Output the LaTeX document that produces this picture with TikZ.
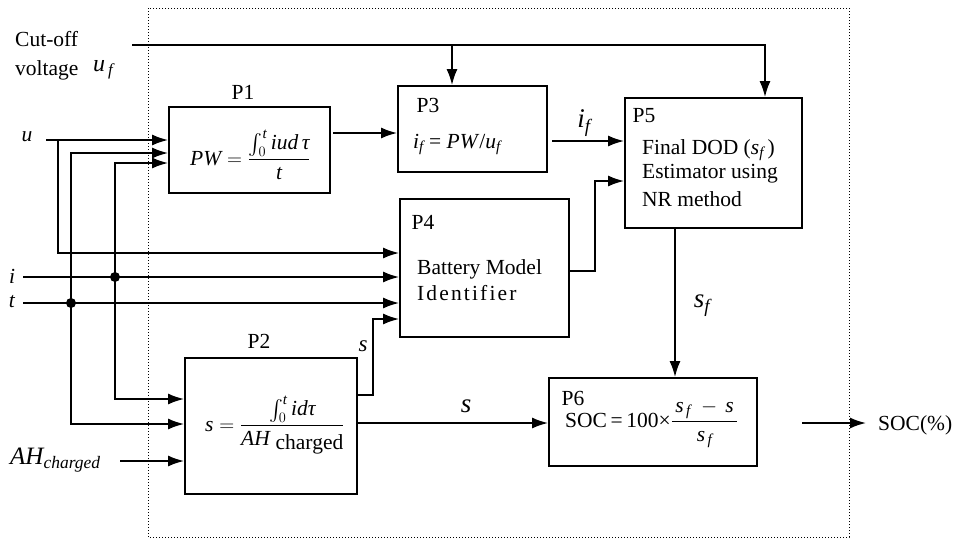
\documentclass[tikz,border=0pt]{standalone}
\usepackage{amsmath}
\usepackage{fontspec}
\setmainfont{Liberation Serif}
\usetikzlibrary{arrows.meta}
\newcommand\vv[1]{\textit{#1}}
\begin{document}
\begin{tikzpicture}[x=1pt,y=-1pt, font=\fontsize{21.5}{24}\selectfont,
  box/.style={draw, line width=1.8pt, inner sep=0pt},
  wire/.style={line width=1.8pt},
  arr/.style={wire, -{Latex[length=16pt,width=11pt]}},
  dblarr/.style={wire, {Latex[length=16pt,width=11pt]}-{Latex[length=16pt,width=11pt]}},
  lbl/.style={inner sep=0pt},
  big/.style={font=\fontsize{27}{30}\selectfont}]
\useasboundingbox (0,0) rectangle (954,539);
\draw[line width=1pt, dotted] (148,8) rectangle (849,537);

% boxes
\node[box, minimum width=161pt, minimum height=86pt] (P1) at (249.5,150) {};
\node[box, minimum width=149pt, minimum height=86pt] (P3) at (472.5,129) {};
\node[box, minimum width=177pt, minimum height=130pt] (P5) at (713.5,163) {};
\node[box, minimum width=169pt, minimum height=138pt] (P4) at (484.5,268) {};
\node[box, minimum width=172pt, minimum height=136pt] (P2) at (271,426) {};
\node[box, minimum width=208pt, minimum height=88pt] (P6) at (653,422) {};

% box titles and contents
\node[lbl] (T1) at (243,92) {P1};
\node[lbl] (T2) at (259,341) {P2};
\node[lbl] (T3) at (428,105) {P3};
\node[lbl] (T4) at (423,222) {P4};
\node[lbl] (T5) at (644,116) {P5};
\node[lbl] (T6) at (573,398) {P6};

\node[lbl, anchor=base west] (F1) at (190,165)
  {$\displaystyle \vv{PW} = \frac{\int_0^{\vv{t}}\vv{iud}\,\vv{τ}}{\vv{t}}$};
\node[lbl, anchor=base west] (F3) at (413,148)
  {$\vv{i}_{\vv{f}}$ = \vv{PW}/$\vv{u}_{\vv{f}}$};
\node[lbl, anchor=west] (F5a) at (642,150) {Final DOD ($\vv{s}_{\vv{f}}$\,)};
\node[lbl, anchor=west] (F5b) at (642,174) {Estimator using};
\node[lbl, anchor=west] (F5c) at (642,199) {NR method};
\node[lbl, anchor=west] (F4a) at (417,269) {Battery Model};
\node[lbl, anchor=west] (F4b) at (417,293) {\addfontfeature{LetterSpace=10}Identifier};
\node[lbl, anchor=base west] (F2) at (205,431)
  {$\displaystyle \vv{s} = \frac{\int_0^{\vv{t}}\vv{id}\vv{τ}}{\vv{AH}\;\raisebox{-4pt}{charged}}$};
\node[lbl, anchor=base west] (F6) at (565,427)
  {SOC\,=\,100×$\displaystyle\frac{\,\vv{s}_{\,\vv{f}}\;-\,\vv{s}\,}{\vv{s}_{\,\vv{f}}}$};

% input labels
\node[lbl, anchor=west] (cut1) at (15,39) {Cut-off};
\node[lbl, anchor=west] (cut2) at (15,70) {voltage};
\node[lbl, anchor=west, font=\fontsize{24}{26}\selectfont] (uf) at (93,70) {$\vv{u}_{\,\vv{f}}$};
\node[lbl] (u) at (27,137) {\vv{u}};
\node[lbl] (i) at (12,276) {\vv{i}};
\node[lbl] (t) at (12,302) {\vv{t}};
\node[lbl, anchor=west, font=\fontsize{25}{27}\selectfont] (AH) at (10,460) {$\vv{AH}_{\vv{charged}}$};
\node[lbl, anchor=west] (SOC) at (878,425) {SOC(\%)};

% wire labels
\node[lbl, big] (Lif) at (584,123) {$\vv{i}_{\vv{f}}$};
\node[lbl, big] (Lsf) at (702,306) {$\vv{s}_{\vv{f}}$};
\node[lbl, font=\fontsize{23}{25}\selectfont] (Ls1) at (363,346) {\vv{s}};
\node[lbl, big] (Ls2) at (466,406) {\vv{s}};

% coordinates
\coordinate (cS) at (132,45);
\coordinate (cB) at (452,45);
\coordinate (cC) at (765,45);
\coordinate (uS) at (46,140);
\coordinate (jU) at (58,140);
\coordinate (jU2) at (58,253);
\coordinate (a1) at (71,153);
\coordinate (a2) at (71,424);
\coordinate (b1) at (115,163);
\coordinate (b2) at (115,399);
\coordinate (iS) at (23,277);
\coordinate (tS) at (23,303);
\coordinate (ahS) at (120,461);
\coordinate (p1o) at (333,133);
\coordinate (p3o) at (552,141);
\coordinate (k1) at (595,271);
\coordinate (k2) at (595,181);
\coordinate (sfx) at (675,300);
\coordinate (m1) at (373,395);
\coordinate (m2) at (373,319);
\coordinate (sy) at (400,423);
\coordinate (socS) at (802,423);
\coordinate (socE) at (866,423);

% wires
\draw[arr] (cS) -- (cC) -- (cC |- P5.north);
\draw[arr] (cB) -- (cB |- P3.north);
\draw[arr] (uS) -- (uS -| P1.west);
\draw[arr] (jU) -- (jU2) -- (jU2 -| P4.west);
\draw[dblarr] (a1 -| P1.west) -- (a1) -- (a2) -- (a2 -| P2.west);
\draw[dblarr] (b1 -| P1.west) -- (b1) -- (b2) -- (b2 -| P2.west);
\draw[arr] (iS) -- (iS -| P4.west);
\draw[arr] (tS) -- (tS -| P4.west);
\fill (71,303) circle (5pt);
\fill (115,277) circle (5pt);
\draw[arr] (ahS) -- (ahS -| P2.west);
\draw[arr] (p1o) -- (p1o -| P3.west);
\draw[arr] (p3o) -- (p3o -| P5.west);
\draw[arr] (k1 -| P4.east) -- (k1) -- (k2) -- (k2 -| P5.west);
\draw[arr] (sfx |- P5.south) -- (sfx |- P6.north);
\draw[arr] (m1 -| P2.east) -- (m1) -- (m2) -- (m2 -| P4.west);
\draw[arr] (sy -| P2.east) -- (sy -| P6.west);
\draw[arr] (socS) -- (socE);
\end{tikzpicture}
\end{document}
